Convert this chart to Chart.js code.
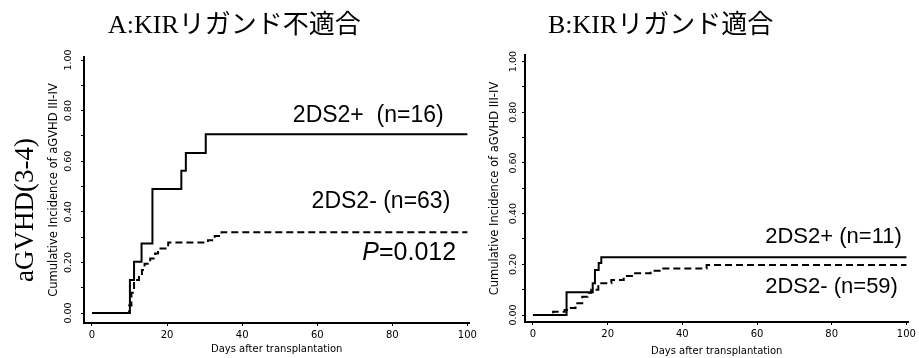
<!DOCTYPE html>
<html>
<head>
<meta charset="utf-8">
<script src="https://cdn.jsdelivr.net/npm/chart.js@4.4.1/dist/chart.umd.min.js"></script>
<style>
  body { margin: 0; background: #fff; }
  #wrap { position: relative; width: 919px; height: 358px; overflow: hidden; }
  #boxA { position: absolute; left: 0; top: 0; width: 480px; height: 358px; }
  #boxB { position: absolute; left: 480px; top: 0; width: 439px; height: 358px; }
</style>
</head>
<body>
<div id="wrap">
  <div id="boxA"><canvas id="chartA" width="480" height="358"></canvas></div>
  <div id="boxB"><canvas id="chartB" width="439" height="358"></canvas></div>
</div>
<script>
// tick values
const xTicks = [0, 20, 40, 60, 80, 100];
const yTicks = [0, 0.1, 0.2, 0.3, 0.4, 0.5, 0.6, 0.7, 0.8, 0.9, 1.0];

// A: KIR ligand mismatch
const aPlusDays = [0, 10.1, 11.2, 13.2, 16.1, 23.8, 25.0, 30.3, 100];
const aPlusCI = [0, 0.13, 0.203, 0.275, 0.49, 0.562, 0.633, 0.707, 0.707];
const aMinusDays = [0, 9.9, 10.5, 11.2, 12.5, 13.3, 14.0, 15.5, 16.8, 17.6, 20.3, 30.9, 32.7, 34.5, 100];
const aMinusCI = [0, 0.03, 0.08, 0.13, 0.15, 0.17, 0.195, 0.215, 0.235, 0.255, 0.279, 0.288, 0.304, 0.319, 0.319];

// B: KIR ligand match
const bPlusDays = [0, 9.0, 16.0, 16.6, 17.6, 18.3, 100];
const bPlusCI = [0, 0.09, 0.125, 0.178, 0.205, 0.228, 0.228];
const bMinusDays = [0, 5.4, 8.5, 9.5, 11.4, 13.2, 14.6, 15.6, 17.5, 21.0, 24.3, 26.5, 31.5, 34.5, 46.5, 100];
const bMinusCI = [0, 0.013, 0.02, 0.028, 0.046, 0.072, 0.088, 0.1, 0.125, 0.138, 0.154, 0.165, 0.175, 0.184, 0.197, 0.197];

// texts
const titleA = 'A:KIRリガンド不適合';
const titleB = 'B:KIRリガンド適合';
const sideLabel = 'aGVHD(3-4)';
const yTitle = 'Cumulative Incidence of aGVHD III-IV';
const xTitle = 'Days after transplantation';
const labelsA = [
  { text: '2DS2+  (n=16)', x: 53.5, y: 0.755 },
  { text: '2DS2- (n=63)', x: 58.5, y: 0.415 }
];
const pLabelA = { x: 72, y: 0.209, p: 'P', rest: '=0.012' };
const labelsB = [
  { text: '2DS2+ (n=11)', x: 62.2, y: 0.284 },
  { text: '2DS2- (n=59)', x: 62.2, y: 0.087 }
];

const serif = "'Liberation Serif', 'Noto Sans CJK JP', serif";
const sans = "'Liberation Sans', Arial, sans-serif";
const small = "'DejaVu Sans', sans-serif";

function pts(days, vals) {
  return days.map((d, i) => ({ x: d, y: vals[i] }));
}

function lineSet(days, vals, dashed) {
  return {
    data: pts(days, vals),
    stepped: true,
    borderColor: '#000',
    borderWidth: 2,
    borderDash: dashed ? [7, 4] : [],
    pointRadius: 0,
    fill: false
  };
}

// draws the panel title, series labels etc.
const textPlugin = {
  id: 'texts',
  afterDraw(chart, args, opts) {
    const ctx = chart.ctx;
    const xs = chart.scales.x, ys = chart.scales.y;
    ctx.save();
    ctx.fillStyle = '#000';
    ctx.textBaseline = 'alphabetic';
    ctx.textAlign = 'left';
    ctx.font = '26px ' + serif;
    ctx.fillText(opts.title, opts.titleX, 33);
    ctx.font = opts.labelSize + 'px ' + sans;
    opts.labels.forEach(l => {
      ctx.fillText(l.text, xs.getPixelForValue(l.x), ys.getPixelForValue(l.y));
    });
    if (opts.pLabel) {
      const px = xs.getPixelForValue(opts.pLabel.x);
      const py = ys.getPixelForValue(opts.pLabel.y);
      ctx.font = 'italic 25px ' + sans;
      ctx.fillText(opts.pLabel.p, px, py);
      const w = ctx.measureText(opts.pLabel.p).width;
      ctx.font = '25px ' + sans;
      ctx.fillText(opts.pLabel.rest, px + w, py);
    }
    if (opts.side) {
      ctx.translate(26, 210);
      ctx.rotate(-Math.PI / 2);
      ctx.textAlign = 'center';
      ctx.textBaseline = 'middle';
      ctx.font = '27px ' + serif;
      ctx.fillText(opts.side, 0, 0);
    }
    ctx.restore();
  }
};

function makeChart(id, sets, o) {
  return new Chart(document.getElementById(id), {
    type: 'line',
    data: { datasets: sets },
    plugins: [textPlugin],
    options: {
      responsive: false,
      animation: false,
      layout: { padding: { top: o.top, right: o.right, bottom: 0, left: 0 } },
      plugins: {
        legend: { display: false },
        tooltip: { enabled: false },
        texts: o.texts
      },
      scales: {
        x: {
          type: 'linear',
          min: -2.13,
          max: 100.53,
          afterBuildTicks: s => { s.ticks = xTicks.map(v => ({ value: v })); },
          afterFit: s => { s.height = o.xHeight; },
          grid: { drawOnChartArea: false, drawTicks: true, tickLength: 3, color: '#000' },
          border: { display: true, color: '#000', width: 2 },
          ticks: { color: '#000', padding: 3, maxRotation: 0, font: { family: small, size: 10 } },
          title: { display: true, text: xTitle, color: '#000', padding: { top: 0, bottom: o.xTitlePad }, font: { family: small, size: 10 } }
        },
        y: {
          type: 'linear',
          min: o.yMin,
          max: o.yMax,
          afterBuildTicks: s => { s.ticks = yTicks.map(v => ({ value: v })); },
          afterFit: s => { s.width = o.yWidth; },
          grid: { drawOnChartArea: false, drawTicks: true, tickLength: 3, color: '#000' },
          border: { display: true, color: '#000', width: 2 },
          ticks: {
            color: '#000',
            padding: o.yTickPad,
            minRotation: 90,
            maxRotation: 90,
            crossAlign: 'center',
            font: { family: small, size: 9.5 },
            callback: v => (Math.round(v * 10) % 2 === 0 ? v.toFixed(2) : '')
          },
          title: { display: true, text: yTitle, color: '#000', padding: { top: o.yTitlePad, bottom: 0 }, font: { family: small, size: 11.5 } }
        }
      }
    }
  });
}

makeChart('chartA', [lineSet(aPlusDays, aPlusCI, false), lineSet(aMinusDays, aMinusCI, true)], {
  top: 57, right: 10, xHeight: 35, yWidth: 84, yMin: -0.0395, yMax: 1.012,
  yTickPad: 2, yTitlePad: 47, xTitlePad: 3,
  texts: { title: titleA, titleX: 108, labelSize: 23, labels: labelsA, pLabel: pLabelA, side: sideLabel }
});

makeChart('chartB', [lineSet(bPlusDays, bPlusCI, false), lineSet(bMinusDays, bMinusCI, true)], {
  top: 55, right: 8, xHeight: 36, yWidth: 45, yMin: -0.0276, yMax: 1.026,
  yTickPad: -2, yTitlePad: 8, xTitlePad: 0.3,
  texts: { title: titleB, titleX: 68, labelSize: 22, labels: labelsB, pLabel: null, side: null }
});
</script>
</body>
</html>
